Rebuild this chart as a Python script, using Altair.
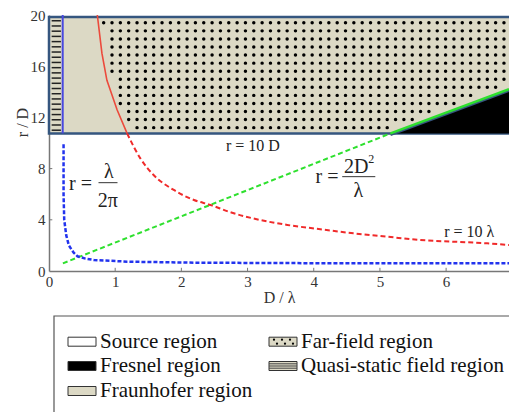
import altair as alt
import numpy as np
import pandas as pd

FONT = "'Liberation Serif', 'Times New Roman', Times, serif"
BEIGE = "#dcd9c5"
BORDER = "#35567f"
RED = "#f02a2a"
GREEN = "#2ee02e"
BLUE = "#2233ee"

# ---- axis ranges / ticks ----
x_max = 6.95
x_ticks = [0, 1, 2, 3, 4, 5, 6]
y_ticks = [0, 4, 8, 12, 16, 20]
band_bottom = 10.75
band_top = 19.85
quasi_x = 0.207

# ---- curves ----
red_band_x = [0.73, 0.80, 0.875, 1.03, 1.18]
red_band_y = [20.0, 17.0, 14.9, 12.58, 10.75]
red_x = [1.18, 1.38, 1.58, 1.885, 2.19, 2.44, 2.74, 3.09, 3.6, 4.1, 4.6, 5.11, 5.61, 6.11, 6.62, 6.95]
red_y = [10.75, 8.8, 7.5, 6.33, 5.55, 5.16, 4.59, 4.1, 3.6, 3.26, 2.94, 2.68, 2.42, 2.29, 2.16, 2.03]
blue_x = [0.22, 0.22, 0.23, 0.26, 0.30, 0.37, 0.43, 0.55, 0.68, 1.18, 2.19, 4.0, 6.95]
blue_y = [9.9, 6.0, 4.0, 2.8, 2.0, 1.45, 1.15, 0.97, 0.86, 0.73, 0.65, 0.61, 0.6]
green_dash_x = [0.21, 5.16]
green_dash_y = [0.6, 10.75]
green_band_x = [5.16, 6.95]
green_band_y = [10.75, 14.2]

# ---- annotations ----
ann_text = ["r = 10 D", "r = 10 λ", "r =", "λ", "2π", "r =", "2D", "2", "λ"]
ann_x = [3.08, 6.35, 0.476, 0.906, 0.89, 4.2, 4.64, 4.87, 4.675]
ann_y = [9.4, 2.66, 6.29, 7.24, 5.02, 6.9, 7.63, 8.44, 5.78]
ann_size = [16, 16, 20, 20, 20, 20, 20, 12, 20]
bar_x = [0.748, 4.43]
bar_x2 = [1.035, 4.93]
bar_y = [6.9, 7.37]

# ---- legend ----
legend_labels = ["Source region", "Fresnel region", "Fraunhofer region",
                 "Far-field region", "Quasi-static field region"]
legend_kind = ["source", "fresnel", "fraunhofer", "far", "quasi"]
legend_col = [0, 0, 0, 1, 1]
legend_row = [0, 1, 2, 0, 1]

X = alt.Scale(domain=[0, x_max], nice=False, zero=False)
Y = alt.Scale(domain=[0, 20], nice=False, zero=False)
xaxis = alt.Axis(values=x_ticks, title="D / λ", grid=False, ticks=False,
                 labelFont=FONT, labelFontSize=15, labelColor="#333", labelPadding=3,
                 labelFlush=False, labelOverlap=False, domainColor="#777", domainWidth=1.5,
                 titleFont=FONT, titleFontSize=16, titleFontWeight="normal", titleColor="#333",
                 titleY=26, titleBaseline="middle", format="d")
yaxis = alt.Axis(values=y_ticks, title="r / D", grid=False, ticks=False,
                 labelFont=FONT, labelFontSize=15, labelColor="#333", labelPadding=4,
                 labelFlush=False, labelOverlap=False, domainColor="#777", domainWidth=1.5,
                 titleFont=FONT, titleFontSize=16, titleFontWeight="normal", titleColor="#333",
                 titleX=-26.5, titleY=107, titleBaseline="middle", format="d")


def xq(f):
    return alt.X(f, type="quantitative", scale=X, axis=xaxis)


def yq(f):
    return alt.Y(f, type="quantitative", scale=Y, axis=yaxis)


# band
band_df = pd.DataFrame({"x": [0.0], "x2": [7.3], "y": [band_bottom], "y2": [band_top]})
band = alt.Chart(band_df).mark_rect(fill=BEIGE, stroke=BORDER, strokeWidth=2.5).encode(
    x=xq("x"), x2="x2", y=yq("y"), y2="y2")

# fresnel black area
fres_df = pd.DataFrame({"x": green_band_x, "y": green_band_y, "y2": [band_bottom] * 2})
fresnel = alt.Chart(fres_df).mark_area(color="black").encode(x=xq("x"), y=yq("y"), y2="y2")

# far-field dot texture
dots = []
red_asc_y = red_band_y[::-1]
red_asc_x = red_band_x[::-1]
for i in range(14):
    yv = 11.2 + 0.63 * i
    xs = np.arange(0.70, x_max - 0.03, 0.126)
    lim = np.interp(yv, red_asc_y, red_asc_x) + 0.08
    g = np.interp(xs, green_band_x, green_band_y)
    for xv, gv in zip(xs, g):
        if xv > lim and yv > gv + 0.4:
            dots.append((xv, yv))
dots_df = pd.DataFrame(dots, columns=["x", "y"])
dotl = alt.Chart(dots_df).mark_circle(color="black", size=12, opacity=1).encode(x=xq("x"), y=yq("y"))

# quasi-static stripes
stripe_df = pd.DataFrame({"y": np.linspace(11.0, 19.55, 22), "x": 0.04, "x2": 0.18})
stripes = alt.Chart(stripe_df).mark_rule(color="#222", strokeWidth=1.5).encode(
    x=xq("x"), x2="x2", y=yq("y"))

# blue vertical
bv_df = pd.DataFrame({"x": [quasi_x], "y": [band_bottom], "y2": [20.0]})
bvert = alt.Chart(bv_df).mark_rule(color="#4848e0", strokeWidth=2).encode(x=xq("x"), y=yq("y"), y2="y2")

# red solid in band
rb_df = pd.DataFrame({"x": red_band_x, "y": red_band_y, "i": range(len(red_band_x))})
redb = alt.Chart(rb_df).mark_line(color="#ec4a3c", strokeWidth=1.6).encode(
    x=xq("x"), y=yq("y"), order="i:Q")

# border along green + green solid
gb_df = pd.DataFrame({"x": green_band_x, "y": green_band_y})
gborder = alt.Chart(gb_df).mark_line(color=BORDER, strokeWidth=2.5, yOffset=1.5).encode(x=xq("x"), y=yq("y"))
gsolid = alt.Chart(gb_df).mark_line(color=GREEN, strokeWidth=2.5).encode(x=xq("x"), y=yq("y"))

# dashed curves
gd_df = pd.DataFrame({"x": green_dash_x, "y": green_dash_y})
gdash = alt.Chart(gd_df).mark_line(color=GREEN, strokeWidth=2, strokeDash=[5, 3]).encode(x=xq("x"), y=yq("y"))
rd_df = pd.DataFrame({"x": red_x, "y": red_y, "i": range(len(red_x))})
rdash = alt.Chart(rd_df).mark_line(color=RED, strokeWidth=2, strokeDash=[5, 3], interpolate="monotone").encode(
    x=xq("x"), y=yq("y"), order="i:Q")
bd_df = pd.DataFrame({"x": blue_x, "y": blue_y, "i": range(len(blue_x))})
bdash = alt.Chart(bd_df).mark_line(color=BLUE, strokeWidth=2.5, strokeDash=[4, 2]).encode(
    x=xq("x"), y=yq("y"), order="i:Q")

# annotations
ann_df = pd.DataFrame({"x": ann_x, "y": ann_y, "t": ann_text, "s": ann_size})
ann = alt.Chart(ann_df).mark_text(font=FONT, color="#222", align="center", baseline="alphabetic").encode(
    x=xq("x"), y=yq("y"), text="t:N", size=alt.Size("s:Q", scale=None, legend=None))
bar_df = pd.DataFrame({"x": bar_x, "x2": bar_x2, "y": bar_y})
bars = alt.Chart(bar_df).mark_rule(color="#333", strokeWidth=1).encode(x=xq("x"), x2="x2", y=yq("y"))

# inward ticks
xt_df = pd.DataFrame({"x": x_ticks[1:], "y": 0.0, "y2": 0.25})
xtk = alt.Chart(xt_df).mark_rule(color="#777", strokeWidth=1).encode(x=xq("x"), y=yq("y"), y2="y2")
yt_df = pd.DataFrame({"y": [4, 8], "x": 0.0, "x2": 0.05})
ytk = alt.Chart(yt_df).mark_rule(color="#777", strokeWidth=1).encode(x=xq("x"), x2="x2", y=yq("y"))

main = alt.layer(band, fresnel, dotl, stripes, bvert, redb, gborder, gsolid, gdash, rdash, bdash,
                 ann, bars, xtk, ytk)

# ---- legend (own scales, in plot-relative pixel units) ----
LX = alt.Scale(domain=[0, 460], nice=False, zero=False)
LY = alt.Scale(domain=[0, 256], nice=False, zero=False)
left0, top0 = 49, 271
col_px = [68, 269]
row_px = [341.7, 366.0, 391.0]
sw_w, sw_h = 28, 9


def lx(f):
    return alt.X(f, type="quantitative", scale=LX, axis=None)


def ly(f):
    return alt.Y(f, type="quantitative", scale=LY, axis=None)


box_df = pd.DataFrame({"x": [54 - left0], "x2": [700], "y": [top0 - 316], "y2": [top0 - 520]})
lbox = alt.Chart(box_df).mark_rect(fillOpacity=0, stroke="#555", strokeWidth=1.2, clip=False).encode(
    x=lx("x"), x2="x2", y=ly("y"), y2="y2")

fills = {"source": "white", "fresnel": "black", "fraunhofer": BEIGE, "far": BEIGE, "quasi": BEIGE}
sw_rows = []
txt_rows = []
for lab, k, c, r in zip(legend_labels, legend_kind, legend_col, legend_row):
    cx = col_px[c] - left0
    cy = top0 - row_px[r]
    sw_rows.append({"x": cx, "x2": cx + sw_w, "y": cy - sw_h / 2, "y2": cy + sw_h / 2, "f": fills[k]})
    txt_rows.append({"x": cx + sw_w + 4, "y": cy, "t": lab})
sw_df = pd.DataFrame(sw_rows)
lsw = alt.Chart(sw_df).mark_rect(stroke="#333", strokeWidth=1, clip=False).encode(
    x=lx("x"), x2="x2", y=ly("y"), y2="y2", fill=alt.Fill("f:N", scale=None, legend=None))
txt_df = pd.DataFrame(txt_rows)
ltxt = alt.Chart(txt_df).mark_text(font=FONT, fontSize=21, color="#111", align="left", baseline="middle",
                                   clip=False).encode(x=lx("x"), y=ly("y"), text="t:N")

# far-field swatch dots
fx = col_px[1] - left0
fy = top0 - row_px[0]
sd = []
for ddx in [5, 13, 21]:
    sd.append({"x": fx + ddx, "y": fy + 2})
for ddx in [8, 16, 24]:
    sd.append({"x": fx + ddx, "y": fy - 2})
sd_df = pd.DataFrame(sd)
lsd = alt.Chart(sd_df).mark_circle(color="black", size=5, opacity=1, clip=False).encode(x=lx("x"), y=ly("y"))

# quasi swatch lines
qy = top0 - row_px[1]
ql_df = pd.DataFrame({"x": [fx] * 3, "x2": [fx + sw_w] * 3, "y": [qy - 2.2, qy, qy + 2.2]})
lql = alt.Chart(ql_df).mark_rule(color="#444", strokeWidth=1, clip=False).encode(x=lx("x"), x2="x2", y=ly("y"))

legend = alt.layer(lbox, lsw, lsd, lql, ltxt)

chart = alt.layer(main, legend).resolve_scale(x="independent", y="independent").properties(
    width=460, height=256,
    autosize=alt.AutoSizeParams(type="none"),
    padding={"left": 49, "top": 15, "right": 0, "bottom": 141},
).configure_view(stroke=None)

chart.save("out.html", embed_options={"renderer": "svg", "actions": False})
